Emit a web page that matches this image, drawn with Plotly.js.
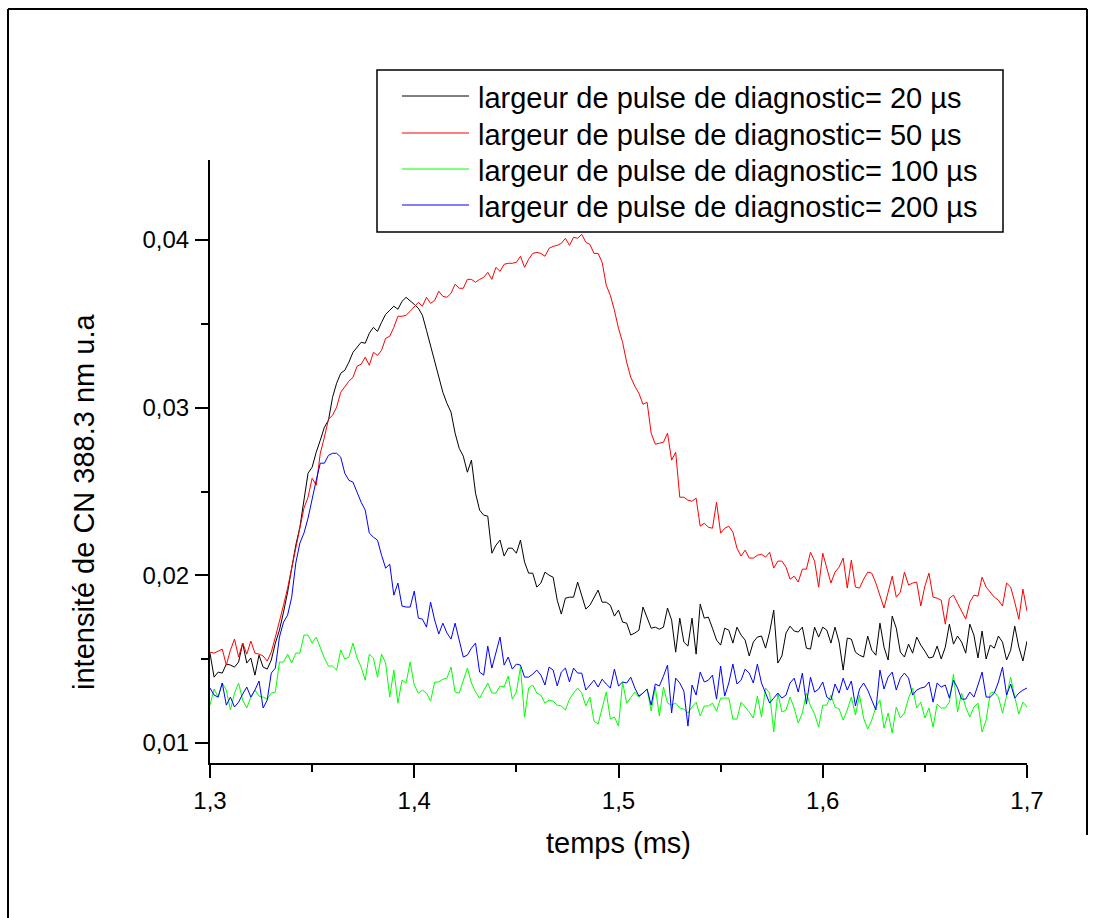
<!DOCTYPE html>
<html>
<head>
<meta charset="utf-8">
<script src="https://cdn.plot.ly/plotly-3.0.1.min.js"></script>
<style>html,body{margin:0;padding:0;background:#fff;}#chart{width:1097px;height:918px;}</style>
</head>
<body>
<div id="chart"></div>
<script>
// time axis: first sample and sampling step (ms)
const t0 = 1.3;
const dt = 0.002;

const seriesNames = [
  "largeur de pulse de diagnostic= 20 µs",
  "largeur de pulse de diagnostic= 50 µs",
  "largeur de pulse de diagnostic= 100 µs",
  "largeur de pulse de diagnostic= 200 µs"
];
const seriesColors = ["#000000", "#ff0000", "#00ff00", "#0000ff"];

const pulse20 = [
0.01536,0.01393,0.01423,0.01417,0.01471,0.01465,0.01453,0.01483,0.01596,0.01477,
0.01507,0.01405,0.01524,0.01453,0.01441,0.01495,0.01596,0.01673,0.01781,0.01900,
0.02043,0.02180,0.02287,0.02448,0.02609,0.02645,0.02734,0.02806,0.02883,0.02925,
0.03062,0.03146,0.03205,0.03223,0.03271,0.03330,0.03360,0.03390,0.03384,0.03444,
0.03479,0.03455,0.03509,0.03557,0.03581,0.03605,0.03587,0.03634,0.03658,0.03634,
0.03616,0.03593,0.03551,0.03461,0.03372,0.03283,0.03193,0.03092,0.03026,0.02973,
0.02848,0.02758,0.02711,0.02615,0.02687,0.02490,0.02389,0.02359,0.02353,0.02132,
0.02180,0.02210,0.02115,0.02162,0.02162,0.02132,0.02210,0.02079,0.02013,0.02013,
0.01930,0.01954,0.02019,0.02001,0.01989,0.01852,0.01769,0.01864,0.01870,0.01870,
0.01960,0.01876,0.01799,0.01822,0.01864,0.01912,0.01840,0.01840,0.01822,0.01757,
0.01793,0.01721,0.01715,0.01644,0.01656,0.01673,0.01811,0.01745,0.01685,0.01691,
0.01679,0.01691,0.01805,0.01733,0.01542,0.01745,0.01602,0.01578,0.01745,0.01530,
0.01828,0.01745,0.01751,0.01685,0.01614,0.01584,0.01685,0.01673,0.01596,0.01691,
0.01644,0.01614,0.01519,0.01602,0.01632,0.01638,0.01566,0.01662,0.01793,0.01477,
0.01519,0.01656,0.01697,0.01668,0.01662,0.01691,0.01566,0.01560,0.01691,0.01632,
0.01691,0.01673,0.01596,0.01691,0.01602,0.01435,0.01626,0.01620,0.01542,0.01524,
0.01513,0.01638,0.01554,0.01524,0.01715,0.01572,0.01495,0.01757,0.01685,0.01542,
0.01513,0.01590,0.01536,0.01632,0.01584,0.01548,0.01507,0.01513,0.01578,0.01501,
0.01572,0.01709,0.01590,0.01638,0.01602,0.01536,0.01709,0.01644,0.01507,0.01668,
0.01501,0.01584,0.01566,0.01638,0.01602,0.01495,0.01554,0.01697,0.01572,0.01489,
0.01608];

const pulse50 = [
0.01542,0.01536,0.01548,0.01560,0.01465,0.01554,0.01620,0.01513,0.01596,0.01530,
0.01608,0.01536,0.01530,0.01519,0.01489,0.01542,0.01632,0.01721,0.01822,0.01924,
0.02043,0.02168,0.02299,0.02401,0.02466,0.02579,0.02538,0.02728,0.02824,0.02931,
0.02955,0.03003,0.03092,0.03128,0.03158,0.03181,0.03247,0.03259,0.03301,0.03253,
0.03330,0.03312,0.03342,0.03414,0.03426,0.03479,0.03545,0.03545,0.03551,0.03575,
0.03599,0.03628,0.03605,0.03658,0.03622,0.03640,0.03694,0.03664,0.03658,0.03682,
0.03736,0.03712,0.03712,0.03765,0.03765,0.03748,0.03765,0.03777,0.03807,0.03765,
0.03837,0.03813,0.03855,0.03861,0.03861,0.03867,0.03903,0.03837,0.03885,0.03920,
0.03926,0.03920,0.03903,0.03950,0.03962,0.03968,0.03980,0.04010,0.03968,0.04016,
0.04010,0.04034,0.03986,0.03974,0.03920,0.03920,0.03867,0.03730,0.03670,0.03581,
0.03473,0.03390,0.03271,0.03181,0.03128,0.03086,0.03020,0.03032,0.02848,0.02782,
0.02788,0.02794,0.02848,0.02687,0.02734,0.02466,0.02466,0.02448,0.02442,0.02460,
0.02293,0.02311,0.02287,0.02281,0.02436,0.02252,0.02281,0.02293,0.02258,0.02162,
0.02115,0.02150,0.02103,0.02103,0.02120,0.02126,0.02109,0.02138,0.02043,0.02085,
0.02085,0.02049,0.01977,0.01995,0.01960,0.02037,0.02037,0.02138,0.02085,0.01930,
0.02132,0.02043,0.01954,0.02019,0.02049,0.02103,0.01924,0.02091,0.01930,0.01924,
0.01977,0.02019,0.02013,0.01954,0.01882,0.01805,0.01900,0.01995,0.01870,0.01900,
0.02019,0.01942,0.01954,0.01960,0.01817,0.01936,0.02013,0.01870,0.01864,0.01852,
0.01709,0.01864,0.01882,0.01834,0.01781,0.01739,0.01840,0.01882,0.01876,0.01989,
0.01930,0.01900,0.01870,0.01852,0.01817,0.01954,0.01930,0.01840,0.01739,0.01918,
0.01787];

const pulse100 = [
0.01226,0.01322,0.01274,0.01358,0.01316,0.01197,0.01298,0.01358,0.01256,0.01209,
0.01274,0.01316,0.01280,0.01274,0.01262,0.01298,0.01304,0.01483,0.01483,0.01530,
0.01477,0.01536,0.01536,0.01644,0.01644,0.01596,0.01632,0.01566,0.01507,0.01459,
0.01459,0.01435,0.01554,0.01501,0.01513,0.01596,0.01507,0.01453,0.01375,0.01530,
0.01507,0.01393,0.01530,0.01477,0.01274,0.01435,0.01238,0.01375,0.01358,0.01483,
0.01346,0.01298,0.01316,0.01298,0.01250,0.01364,0.01364,0.01381,0.01387,0.01453,
0.01304,0.01298,0.01375,0.01447,0.01358,0.01304,0.01268,0.01310,0.01358,0.01298,
0.01298,0.01340,0.01334,0.01399,0.01262,0.01304,0.01453,0.01155,0.01328,0.01346,
0.01298,0.01286,0.01238,0.01256,0.01250,0.01226,0.01221,0.01197,0.01262,0.01298,
0.01328,0.01298,0.01221,0.01274,0.01131,0.01113,0.01209,0.01304,0.01143,0.01155,
0.01101,0.01364,0.01238,0.01268,0.01304,0.01274,0.01298,0.01322,0.01191,0.01334,
0.01161,0.01334,0.01238,0.01226,0.01238,0.01209,0.01203,0.01179,0.01215,0.01244,
0.01161,0.01221,0.01221,0.01238,0.01191,0.01268,0.01268,0.01268,0.01143,0.01143,
0.01244,0.01215,0.01185,0.01149,0.01280,0.01155,0.01328,0.01298,0.01066,0.01298,
0.01185,0.01197,0.01274,0.01209,0.01119,0.01179,0.01298,0.01221,0.01173,0.01095,
0.01226,0.01226,0.01286,0.01215,0.01203,0.01137,0.01197,0.01274,0.01167,0.01286,
0.01149,0.01083,0.01137,0.01215,0.01256,0.01089,0.01179,0.01060,0.01215,0.01149,
0.01179,0.01268,0.01328,0.01209,0.01244,0.01149,0.01209,0.01095,0.01232,0.01209,
0.01209,0.01244,0.01411,0.01185,0.01298,0.01215,0.01155,0.01215,0.01238,0.01066,
0.01137,0.01298,0.01304,0.01274,0.01179,0.01280,0.01393,0.01274,0.01173,0.01244,
0.01215];

const pulse200 = [
0.01328,0.01286,0.01274,0.01358,0.01226,0.01274,0.01215,0.01244,0.01292,0.01334,
0.01274,0.01316,0.01370,0.01209,0.01256,0.01417,0.01447,0.01632,0.01721,0.01763,
0.01870,0.02073,0.02192,0.02252,0.02341,0.02460,0.02567,0.02669,0.02669,0.02716,
0.02728,0.02728,0.02705,0.02609,0.02567,0.02556,0.02490,0.02436,0.02389,0.02252,
0.02228,0.02210,0.02120,0.02043,0.02067,0.01882,0.01954,0.01817,0.01811,0.01811,
0.01906,0.01745,0.01739,0.01691,0.01840,0.01733,0.01650,0.01715,0.01656,0.01620,
0.01715,0.01620,0.01513,0.01524,0.01566,0.01596,0.01423,0.01405,0.01578,0.01447,
0.01542,0.01632,0.01465,0.01513,0.01441,0.01471,0.01465,0.01393,0.01393,0.01411,
0.01435,0.01405,0.01346,0.01453,0.01435,0.01340,0.01423,0.01447,0.01364,0.01447,
0.01417,0.01417,0.01316,0.01346,0.01375,0.01334,0.01381,0.01352,0.01328,0.01441,
0.01340,0.01364,0.01358,0.01393,0.01328,0.01280,0.01298,0.01322,0.01226,0.01352,
0.01340,0.01399,0.01465,0.01179,0.01387,0.01358,0.01310,0.01101,0.01346,0.01286,
0.01423,0.01364,0.01375,0.01405,0.01262,0.01459,0.01280,0.01358,0.01471,0.01352,
0.01375,0.01441,0.01417,0.01358,0.01471,0.01358,0.01298,0.01238,0.01268,0.01298,
0.01268,0.01286,0.01358,0.01387,0.01304,0.01417,0.01232,0.01393,0.01304,0.01322,
0.01364,0.01274,0.01256,0.01352,0.01298,0.01387,0.01316,0.01370,0.01221,0.01322,
0.01358,0.01316,0.01256,0.01197,0.01435,0.01322,0.01393,0.01423,0.01316,0.01387,
0.01417,0.01387,0.01286,0.01316,0.01328,0.01334,0.01364,0.01244,0.01358,0.01334,
0.01346,0.01268,0.01375,0.01328,0.01262,0.01262,0.01304,0.01274,0.01346,0.01423,
0.01274,0.01274,0.01298,0.01364,0.01453,0.01286,0.01352,0.01268,0.01298,0.01316,
0.01328];

const xTitle = "temps (ms)";
const yTitle = "intensité de CN 388.3 nm u.a";

const allSeries = [pulse20, pulse50, pulse100, pulse200];
const FONT = "Liberation Sans, Arial, Helvetica, sans-serif";

const traces = allSeries.map((ys, k) => ({
  type: "scatter",
  mode: "lines",
  x0: t0,
  dx: dt,
  y: ys,
  name: seriesNames[k],
  line: {color: seriesColors[k], width: 1},
  showlegend: false
}));

// plot area: x 210..1027 px, y 160..763 px
const W = 1097, H = 918, L = 210, R = 70, T = 160, B = 155;
const pw = W - L - R, ph = H - T - B;
const px = v => (v - L) / pw;
const py = v => (H - B - v) / ph;

const shapes = [
  // outer frame
  {type: "line", xref: "paper", yref: "paper", x0: px(8), x1: px(1087), y0: py(9), y1: py(9), line: {color: "#000", width: 2}},
  {type: "line", xref: "paper", yref: "paper", x0: px(8), x1: px(8), y0: py(9), y1: py(918), line: {color: "#000", width: 2}},
  {type: "line", xref: "paper", yref: "paper", x0: px(1087), x1: px(1087), y0: py(9), y1: py(835), line: {color: "#000", width: 2}},
  // legend box
  {type: "rect", xref: "paper", yref: "paper", x0: px(377), x1: px(1003), y0: py(232), y1: py(70), line: {color: "#000", width: 1.5}, fillcolor: "rgba(0,0,0,0)"}
];
const rowY = [96, 133, 169, 205];
const annotations = [];
seriesNames.forEach((nm, k) => {
  shapes.push({type: "line", xref: "paper", yref: "paper", x0: px(402), x1: px(469), y0: py(rowY[k]), y1: py(rowY[k]), line: {color: seriesColors[k], width: 1}});
  annotations.push({xref: "paper", yref: "paper", x: px(476), y: py(rowY[k] + 2), xanchor: "left", yanchor: "middle", showarrow: false, text: nm, font: {family: FONT, size: 29, color: "#000"}});
});
// y-axis title (placed as in the reference, below the axis centre)
annotations.push({xref: "paper", yref: "paper", x: px(84), y: py(502), xanchor: "center", yanchor: "middle", textangle: -90, showarrow: false, text: yTitle, font: {family: FONT, size: 29, color: "#000"}});

const layout = {
  width: W, height: H,
  margin: {l: L, r: R, t: T, b: B, pad: 0},
  paper_bgcolor: "#fff", plot_bgcolor: "#fff",
  separators: ", ",
  showlegend: false,
  font: {family: FONT, color: "#000"},
  xaxis: {
    range: [1.3, 1.7], dtick: 0.1, tick0: 1.3, tickformat: ".1f",
    showgrid: false, zeroline: false, showline: true, linecolor: "#000", linewidth: 2,
    ticks: "outside", ticklen: 13, tickwidth: 2, tickcolor: "#000",
    minor: {dtick: 0.05, ticks: "outside", ticklen: 7, tickwidth: 2, tickcolor: "#000", showgrid: false},
    tickfont: {family: FONT, size: 24, color: "#000"},
    ticklabelstandoff: 2,
    title: {text: xTitle, font: {family: FONT, size: 29, color: "#000"}, standoff: 20},
    automargin: false
  },
  yaxis: {
    range: [0.00881, 0.04477], dtick: 0.01, tick0: 0, tickformat: ".2f",
    showgrid: false, zeroline: false, showline: true, linecolor: "#000", linewidth: 2,
    ticks: "outside", ticklen: 13, tickwidth: 2, tickcolor: "#000",
    minor: {dtick: 0.005, ticks: "outside", ticklen: 7, tickwidth: 2, tickcolor: "#000", showgrid: false},
    tickfont: {family: FONT, size: 24, color: "#000"},
    ticklabelstandoff: 1,
    automargin: false
  },
  shapes: shapes,
  annotations: annotations
};

Plotly.newPlot("chart", traces, layout, {displayModeBar: false, staticPlot: true});
</script>
</body>
</html>
